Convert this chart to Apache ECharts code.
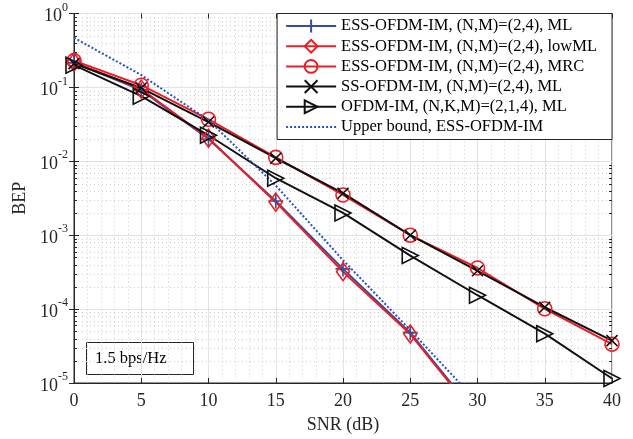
<!DOCTYPE html>
<html>
<head>
    <meta charset="utf-8">
    <title>BEP vs SNR</title>
    <script src="https://cdn.jsdelivr.net/npm/echarts@6/dist/echarts.min.js"></script>
</head>
<body style="margin:0">
    <div id="main" style="width: 633px;height: 439px;"></div>
    <script type="text/javascript">
        // values
        var snr = [0, 5, 10, 15, 20, 25, 30, 35, 40];
        var essML    = [0.215, 0.092, 0.0200, 0.0029, 0.00035, 0.000048, 0.0000036, null, null];
        var essLowML = [0.220, 0.095, 0.0205, 0.0028, 0.00032, 0.000046, 0.0000034, null, null];
        var essMRC   = [0.230, 0.107, 0.0370, 0.0113, 0.0035, 0.00100, 0.00036, 0.000101, 0.0000335];
        var ssML     = [0.210, 0.098, 0.0340, 0.0110, 0.0037, 0.00100, 0.00033, 0.000106, 0.0000375];
        var ofdmIM   = [0.200, 0.076, 0.0225, 0.0059, 0.0020, 0.00053, 0.000154, 0.0000465, 0.0000115];
        var upperBnd = [0.47, 0.147, 0.036, 0.0047, 0.00046, 0.000052, 0.0000055, null, null];

        var names = [
            'ESS-OFDM-IM, (N,M)=(2,4), ML',
            'ESS-OFDM-IM, (N,M)=(2,4), lowML',
            'ESS-OFDM-IM, (N,M)=(2,4), MRC',
            'SS-OFDM-IM, (N,M)=(2,4), ML',
            'OFDM-IM, (N,K,M)=(2,1,4), ML',
            'Upper bound, ESS-OFDM-IM'
        ];

        // minor log ticks: 2..9 x 10^k
        var decades = [-5, -4, -3, -2, -1];
        var mantissas = [2, 3, 4, 5, 6, 7, 8, 9];
        var minorVals = [];
        decades.forEach(function (d) {
            mantissas.forEach(function (m) { minorVals.push([0, m * Math.pow(10, d)]); });
        });

        var font = "'Liberation Serif', 'Times New Roman', serif";
        var axisCol = '#262626';
        var blue = '#2f4f9f';
        var red = '#ee1c24';
        var black = '#111111';
        var dotBlue = '#2850c0';

        function pairs(arr) {
            return snr.map(function (x, i) { return [x, arr[i]]; });
        }

        function lineSeries(name, data, color, symbol, size, extra) {
            var s = {
                name: name,
                type: 'line',
                data: pairs(data),
                symbol: symbol,
                symbolSize: size,
                showSymbol: true,
                connectNulls: false,
                z: 3,
                lineStyle: { color: color, width: 2 },
                itemStyle: { color: 'rgba(0,0,0,0)', borderColor: color, borderWidth: 1.6 },
                emphasis: { disabled: true }
            };
            if (extra) Object.assign(s, extra);
            return s;
        }

        var legendData = names.map(function (n, i) {
            if (i === 5) return { name: n, itemStyle: { opacity: 0 } };
            return { name: n };
        });

        var myChart = echarts.init(document.getElementById('main'));

        var option = {
            animation: false,
            backgroundColor: '#ffffff',
            textStyle: { fontFamily: font },
            grid: {
                left: 74, right: 21, top: 13.5, bottom: 56,
                show: true, borderColor: axisCol, borderWidth: 1
            },
            legend: {
                data: legendData,
                orient: 'vertical',
                right: 21,
                top: 13.5,
                backgroundColor: '#ffffff',
                borderColor: axisCol,
                borderWidth: 1,
                borderRadius: 0,
                padding: [4, 15, 4, 8],
                itemWidth: 50,
                itemHeight: 16,
                itemGap: 3.2,
                textStyle: { fontFamily: font, fontSize: 16.5, color: '#000' }
            },
            xAxis: [{
                type: 'value',
                min: 0, max: 40, interval: 5,
                name: 'SNR (dB)',
                nameLocation: 'middle',
                nameGap: 33,
                nameTextStyle: { fontFamily: font, fontSize: 18, color: axisCol },
                axisLine: { show: true, lineStyle: { color: axisCol } },
                axisTick: { show: true, inside: true, length: 5, lineStyle: { color: axisCol } },
                axisLabel: { fontFamily: font, fontSize: 18, color: axisCol, margin: 9 },
                splitLine: { show: true, lineStyle: { color: '#e2e2e2', width: 1 } },
                minorTick: { show: false, splitNumber: 5 },
                minorSplitLine: { show: true, lineStyle: { color: '#cfcfcf', type: [1, 3], width: 1 } }
            }, {
                type: 'value',
                position: 'top',
                min: 0, max: 40, interval: 5,
                axisLine: { show: false },
                axisTick: { show: true, inside: true, length: 5, lineStyle: { color: axisCol } },
                axisLabel: { show: false },
                splitLine: { show: false }
            }],
            yAxis: [{
                type: 'log',
                logBase: 10,
                min: 1e-5, max: 1,
                name: 'BEP',
                nameLocation: 'middle',
                nameGap: 44,
                nameTextStyle: { fontFamily: font, fontSize: 18, color: axisCol },
                axisLine: { show: true, lineStyle: { color: axisCol } },
                axisTick: { show: true, inside: true, length: 5, lineStyle: { color: axisCol } },
                axisLabel: {
                    margin: 6,
                    formatter: function (v) {
                        var e = Math.round(Math.log10(v));
                        return '{b|10}{s|' + e + '}';
                    },
                    rich: {
                        b: { fontFamily: font, fontSize: 18, color: axisCol, padding: [6, 0, 0, 0] },
                        s: { fontFamily: font, fontSize: 12, color: axisCol, verticalAlign: 'top', padding: [0, 0, 6, 0] }
                    }
                },
                splitLine: { show: true, lineStyle: { color: '#e2e2e2', width: 1 } }
            }, {
                type: 'log',
                logBase: 10,
                min: 1e-5, max: 1,
                position: 'right',
                axisLine: { show: false },
                axisTick: { show: true, inside: true, length: 5, lineStyle: { color: axisCol } },
                axisLabel: { show: false },
                splitLine: { show: false }
            }],
            graphic: [{
                type: 'group',
                left: 86, top: 342,
                children: [{
                    type: 'rect',
                    shape: { x: 0.5, y: 0.5, width: 107, height: 32 },
                    style: { fill: '#ffffff', stroke: axisCol, lineWidth: 1 }
                }, {
                    type: 'text',
                    x: 9, y: 17,
                    style: {
                        text: '1.5 bps/Hz', fontFamily: font, fontSize: 16.5,
                        fill: '#000', verticalAlign: 'middle'
                    }
                }]
            }],
            series: [
                {
                    name: 'minor',
                    type: 'custom',
                    silent: true,
                    z: 1,
                    data: minorVals,
                    renderItem: function (params, api) {
                        var cs = params.coordSys;
                        var y = Math.round(api.coord([0, api.value(1)])[1]) + 0.5;
                        return {
                            type: 'group',
                            children: [{
                                type: 'line',
                                shape: { x1: cs.x, y1: y, x2: cs.x + cs.width, y2: y },
                                style: { stroke: '#cfcfcf', lineWidth: 1, lineDash: [1, 3] }
                            }, {
                                type: 'line',
                                shape: { x1: cs.x, y1: y, x2: cs.x + 3, y2: y },
                                style: { stroke: axisCol, lineWidth: 1 }
                            }, {
                                type: 'line',
                                shape: { x1: cs.x + cs.width - 3, y1: y, x2: cs.x + cs.width, y2: y },
                                style: { stroke: axisCol, lineWidth: 1 }
                            }]
                        };
                    }
                },
                lineSeries(names[0], essML, blue, 'path://M5,0L5,10M0,5L10,5', 15),
                lineSeries(names[1], essLowML, red, 'diamond', [13, 18]),
                lineSeries(names[2], essMRC, red, 'circle', 14),
                lineSeries(names[3], ssML, black, 'path://M0,0L10,10M10,0L0,10', 11),
                lineSeries(names[4], ofdmIM, black, 'path://M0,0L10,5L0,10Z', [16, 16]),
                lineSeries(names[5], upperBnd, dotBlue, 'none', 0, {
                    showSymbol: false,
                    lineStyle: { color: dotBlue, width: 2, type: [2, 2] }
                })
            ]
        };

        myChart.setOption(option);
    </script>
</body>
</html>
